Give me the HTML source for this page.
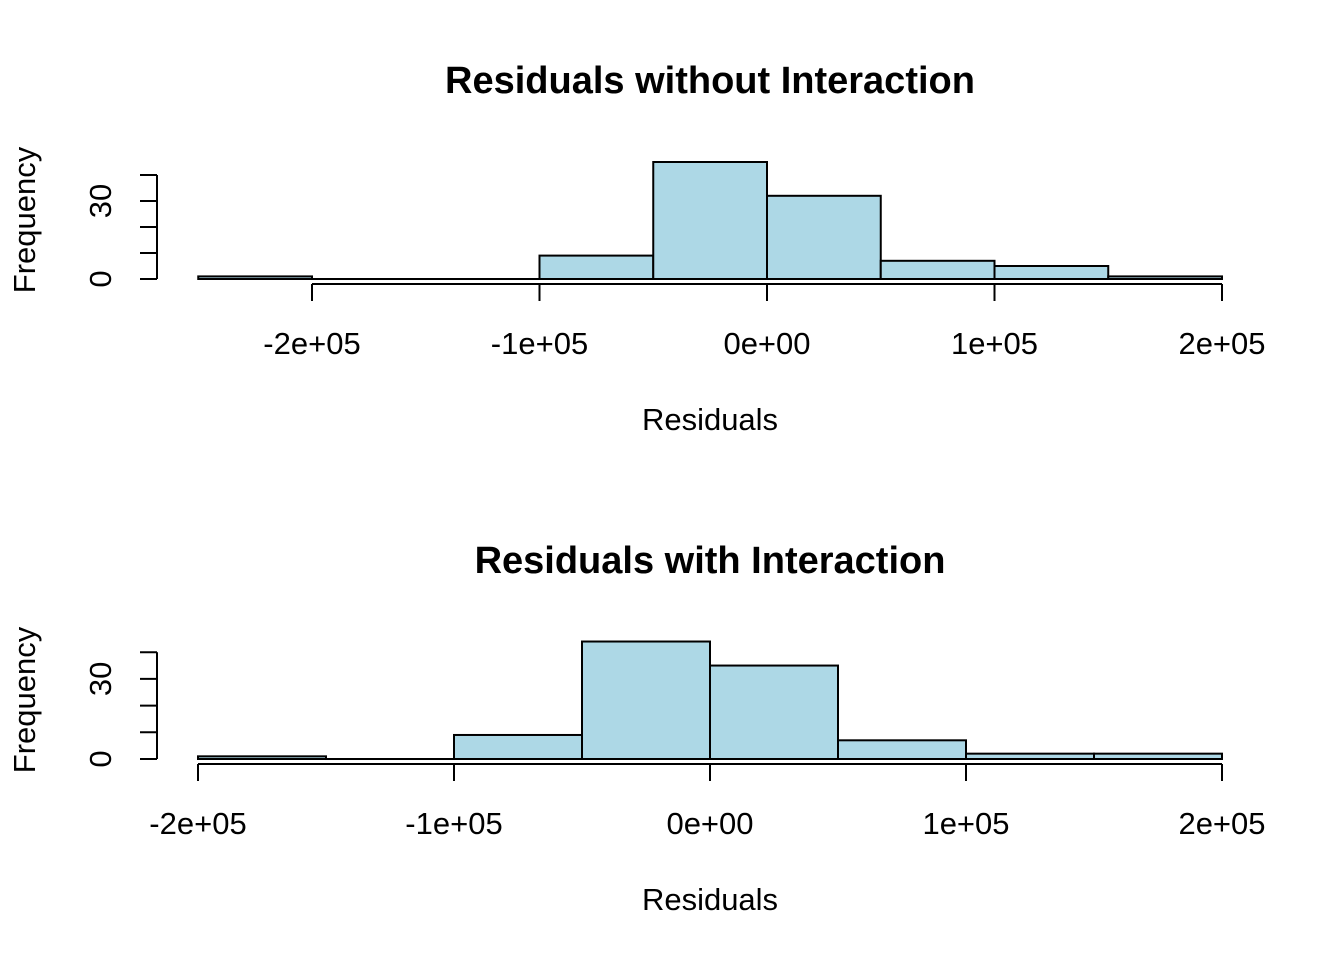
<!DOCTYPE html>
<html><head><meta charset="utf-8"><style>
body{margin:0;background:#fff;font-family:"Liberation Sans",Arial,sans-serif}
</style></head><body>
<svg id="chart" width="1344" height="960" xmlns="http://www.w3.org/2000/svg"></svg>
<script>
const breaks1=[-250000,-200000,-150000,-100000,-50000,0,50000,100000,150000,200000];
const counts1=[1,0,0,9,45,32,7,5,1];
const xticks1=[-200000,-100000,0,100000,200000];
const xlabels1=["-2e+05","-1e+05","0e+00","1e+05","2e+05"];
const breaks2=[-200000,-150000,-100000,-50000,0,50000,100000,150000,200000];
const counts2=[1,0,9,44,35,7,2,2];
const xticks2=[-200000,-100000,0,100000,200000];
const xlabels2=["-2e+05","-1e+05","0e+00","1e+05","2e+05"];
const yticks=[0,10,20,30,40];
const ylabels=["0","","","30",""];

const svg=document.getElementById('chart');
const NS="http://www.w3.org/2000/svg";
function mk(t,a,txt){const e=document.createElementNS(NS,t);for(const k in a)e.setAttribute(k,a[k]);if(txt!==undefined)e.textContent=txt;svg.appendChild(e);return e;}

function panel(cfg){
  const xs=v=>cfg.x0+(v-cfg.v0)*cfg.pxPer;
  const ys=v=>cfg.y0-v*cfg.pyPer;
  let t=mk('text',{x:710,y:cfg.titleY,'text-anchor':'middle','font-size':38,'font-weight':'bold'},cfg.title);
  
  
  cfg.counts.forEach((c,i)=>{
    const x1=xs(cfg.breaks[i]),x2=xs(cfg.breaks[i+1]);
    const r=mk('rect',{x:x1,y:ys(c),width:x2-x1,height:Math.max(c*cfg.pyPer,0.01),fill:'#add8e6',stroke:'#000','stroke-width':2});
    
    
  });
  const axY=cfg.y0+5;
  const xa=mk('line',{x1:xs(cfg.xticks[0]),x2:xs(cfg.xticks[cfg.xticks.length-1]),y1:axY,y2:axY,stroke:'#000','stroke-width':2});
  
  
  cfg.xticks.forEach((v,i)=>{
    mk('line',{x1:xs(v),x2:xs(v),y1:axY,y2:axY+17,stroke:'#000','stroke-width':2});
    const l=mk('text',{x:xs(v),y:axY+70,'text-anchor':'middle','font-size':31},cfg.xlabels[i]);
    
    
  });
  const ya=mk('line',{x1:157,x2:157,y1:ys(0),y2:ys(40),stroke:'#000','stroke-width':2});
  
  
  yticks.forEach((v,i)=>{
    mk('line',{x1:140,x2:157,y1:ys(v),y2:ys(v),stroke:'#000','stroke-width':2});
    if(ylabels[i]){
      const l=mk('text',{x:0,y:0,'text-anchor':'middle','font-size':31,transform:`translate(111,${ys(v)}) rotate(-90)`},ylabels[i]);
      
      
    }
  });
  const xt=mk('text',{x:710,y:cfg.y0+151,'text-anchor':'middle','font-size':31},'Residuals');
  
  
  const yt=mk('text',{x:0,y:0,'text-anchor':'middle','font-size':31,transform:`translate(35,${cfg.y0-59}) rotate(-90)`},'Frequency');
  
  
}
panel({id:'top',title:'Residuals without Interaction',titleY:93,breaks:breaks1,counts:counts1,xticks:xticks1,xlabels:xlabels1,x0:312,v0:-200000,pxPer:910/400000,y0:279,pyPer:2.6});
panel({id:'bottom',title:'Residuals with Interaction',titleY:573,breaks:breaks2,counts:counts2,xticks:xticks2,xlabels:xlabels2,x0:198,v0:-200000,pxPer:1024/400000,y0:759,pyPer:2.67});
</script>
</body></html>
